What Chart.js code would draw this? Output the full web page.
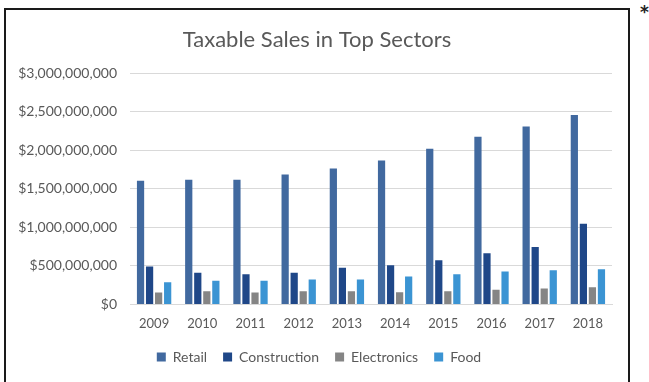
<!DOCTYPE html>
<html>
<head>
<meta charset="utf-8">
<script src="https://cdn.jsdelivr.net/npm/chart.js@4/dist/chart.umd.min.js"></script>
<style>
  html, body { margin: 0; padding: 0; background: #fff; }
  body { width: 649px; height: 382px; position: relative; overflow: hidden; }
  #frame {
    position: absolute; left: 4px; top: 8px;
    width: 622px; height: 380px;
    border: 2px solid #1a1a1a; background: #fff;
  }
  #star {
    position: absolute; left: 640px; top: 4px;
    font: bold 17px "DejaVu Sans", sans-serif; color: #222; line-height: 17px;
  }
</style>
</head>
<body>
<div id="frame"><canvas id="c" width="622" height="380"></canvas></div>
<div id="star">*</div>
<script>
// Taxable sales by sector, 2009-2018 (US dollars)
const years = ['2009','2010','2011','2012','2013','2014','2015','2016','2017','2018'];
const retail       = [1606e6, 1619e6, 1619e6, 1688e6, 1765e6, 1869e6, 2021e6, 2176e6, 2310e6, 2461e6];
const construction = [492e6, 410e6, 393e6, 410e6, 475e6, 509e6, 574e6, 665e6, 746e6, 1049e6];
const electronics  = [155e6, 172e6, 155e6, 172e6, 172e6, 159e6, 172e6, 189e6, 207e6, 224e6];
const food         = [289e6, 306e6, 306e6, 324e6, 324e6, 363e6, 392e6, 427e6, 444e6, 457e6];
const seriesNames  = ['Retail', 'Construction', 'Electronics', 'Food'];

const colors = ['#41699f', '#1f4788', '#858585', '#3b94d3'];
const textColor = '#595959';
const fontFamily = 'Lato, "Open Sans", sans-serif';

const fmt = v => '$' + Math.round(v).toLocaleString('en-US');

const RIGHT_PAD = 16;

// centre title and legend on the full frame width, and pull the legend
// row up a little, closer to the axis labels
const blockAdjust = {
  id: 'blockAdjust',
  afterLayout(chart) {
    const t = chart.titleBlock;
    t.right += RIGHT_PAD; t.width += RIGHT_PAD;
    const l = chart.legend;
    l.left += RIGHT_PAD / 2 + 2; l.right += RIGHT_PAD / 2 + 2;
    l.top -= 10; l.bottom -= 10;
  }
};

new Chart(document.getElementById('c'), {
  type: 'bar',
  data: {
    labels: years,
    datasets: [retail, construction, electronics, food].map((d, i) => ({
      label: seriesNames[i],
      data: d,
      backgroundColor: colors[i],
      borderWidth: 0,
      barPercentage: 0.8,
      categoryPercentage: 0.75
    }))
  },
  plugins: [blockAdjust],
  options: {
    responsive: false,
    animation: false,
    devicePixelRatio: 1,
    layout: { padding: { left: 0, right: RIGHT_PAD, top: 0, bottom: 6 } },
    plugins: {
      title: {
        display: true,
        text: 'Taxable Sales in Top Sectors',
        color: textColor,
        font: { family: fontFamily, size: 22, weight: 'normal' },
        padding: { top: 17, bottom: 20 }
      },
      legend: {
        position: 'bottom',
        labels: {
          color: textColor,
          font: { family: fontFamily, size: 14 },
          boxWidth: 9,
          boxHeight: 9,
          padding: 16
        }
      },
      tooltip: { enabled: false }
    },
    scales: {
      x: {
        grid: { display: false, drawTicks: false },
        border: { display: true, color: '#d9d9d9', width: 1 },
        ticks: { color: textColor, font: { family: fontFamily, size: 13 }, padding: 12 }
      },
      y: {
        min: 0,
        max: 3000000000,
        ticks: {
          stepSize: 500000000,
          color: textColor,
          font: { family: fontFamily, size: 14 },
          padding: 13,
          callback: v => fmt(v)
        },
        grid: { color: '#d9d9d9', lineWidth: 1, drawTicks: false },
        border: { display: false },
        afterFit: s => { s.width = 124; }
      }
    }
  }
});
</script>
</body>
</html>
